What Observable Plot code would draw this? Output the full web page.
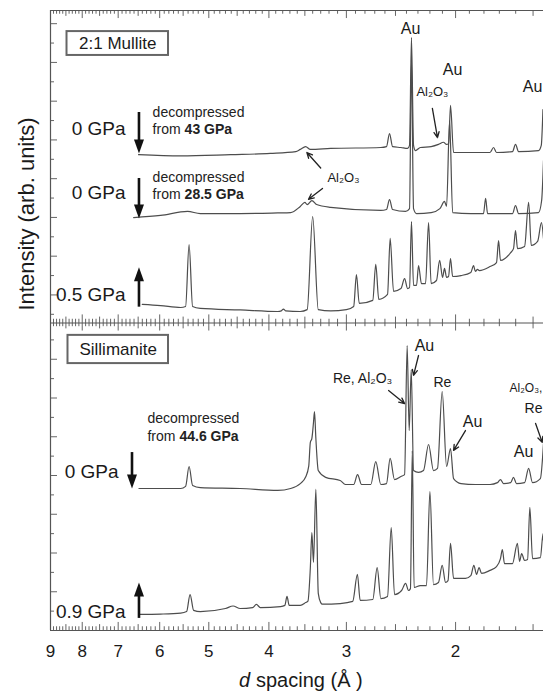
<!DOCTYPE html>
<html><head><meta charset="utf-8">
<script src="https://cdn.jsdelivr.net/npm/d3@7"></script>
<script src="https://cdn.jsdelivr.net/npm/@observablehq/plot@0.6"></script>
<style>body{margin:0;background:#fff;} svg{display:block;}</style>
</head><body><div id="chart"></div>
<script>
// ---- data: [d spacing (Å), intensity (arb. units, stacked offset)] ----
// Top panel: 2:1 Mullite
const traceA = [ // 0 GPa, decompressed from 43 GPa
[6.49,153.5],[5.55,153.1],[4.61,153.5],[3.98,153.9],[3.62,154.5],[3.56,155.2],[3.49,156.1],[3.43,155.2],[3.18,155.5],[2.64,155.8],[2.585,156.1],[2.556,160.3],[2.527,156.1],[2.45,155.8],[2.39,155.5],[2.373,156.5],[2.356,191.3],[2.338,156.5],[2.321,154.8],[2.28,155.8],[2.19,156.1],[2.131,156.8],[2.092,157.5],[2.068,156.8],[2.052,157],[2.038,169.4],[2.015,154.2],[1.96,154.2],[1.76,154.2],[1.737,155.8],[1.718,154.2],[1.619,154.5],[1.601,156.8],[1.583,154.5],[1.47,154.8],[1.455,156.5],[1.446,168]
];
const traceB = [ // 0 GPa, decompressed from 28.5 GPa
[6.61,133.2],[5.98,133.9],[5.41,135.2],[5.16,134.5],[4.45,134.5],[3.87,134.7],[3.69,134.8],[3.56,136.8],[3.50,138.1],[3.47,137.4],[3.41,138.7],[3.35,137.4],[3.18,136.5],[2.64,135.5],[2.585,135.8],[2.556,139.0],[2.527,135.8],[2.408,135.2],[2.373,136.1],[2.356,183.9],[2.338,136.1],[2.312,134.5],[2.19,134.8],[2.12,136.1],[2.084,138.4],[2.068,136.8],[2.045,164.5],[2.022,134.8],[1.89,134.5],[1.803,134.5],[1.789,139.4],[1.776,134.5],[1.619,134.5],[1.601,137.1],[1.583,134.5],[1.470,134.8],[1.453,138.7],[1.443,151.6]
];
const traceC = [ // 0.5 GPa
[6.40,105.2],[5.98,104.8],[5.55,104.2],[5.45,104.5],[5.38,124.5],[5.31,104.5],[5.16,103.9],[4.45,103.4],[3.87,102.9],[3.82,103.1],[3.79,103.7],[3.76,103.1],[3.56,102.9],[3.47,103.5],[3.40,133.5],[3.33,103.5],[3.18,103.1],[3.00,103.5],[2.92,104.5],[2.89,114.8],[2.86,105.5],[2.72,106.5],[2.69,118.1],[2.66,106.8],[2.575,108.4],[2.55,126.5],[2.518,109.4],[2.45,110.3],[2.417,113.5],[2.39,110.3],[2.373,110.6],[2.356,131.9],[2.338,111.3],[2.312,111.3],[2.295,117.7],[2.270,111.9],[2.236,111.9],[2.211,131.6],[2.19,111.9],[2.147,112.9],[2.122,119.4],[2.099,113.9],[2.084,116.8],[2.068,113.9],[2.053,114.2],[2.038,120],[2.022,114.2],[1.96,114.5],[1.89,115.5],[1.871,117.7],[1.858,115.8],[1.844,116.5],[1.831,116.1],[1.76,117.4],[1.718,118.7],[1.705,125.8],[1.693,119.4],[1.63,121.9],[1.613,123.2],[1.601,129],[1.589,123.2],[1.548,123.9],[1.525,138.1],[1.51,124.2],[1.475,125.5],[1.454,131.6],[1.443,126.5]
];
// Bottom panel: Sillimanite
const traceD = [ // 0 GPa, decompressed from 44.6 GPa
[6.48,45.8],[5.98,45.8],[5.55,45.8],[5.45,46.5],[5.38,52.9],[5.31,46.8],[5.16,46.1],[4.45,45.8],[3.87,45.2],[3.69,45.8],[3.56,47.4],[3.49,49.5],[3.45,53],[3.43,60.6],[3.41,62],[3.39,67],[3.377,70.6],[3.36,62],[3.33,51.6],[3.24,49.4],[3.07,48.4],[3.01,47.1],[2.92,47.1],[2.878,50.3],[2.836,47.1],[2.74,47.1],[2.69,54.5],[2.64,47.1],[2.585,47.4],[2.55,55.5],[2.509,48.7],[2.45,49.7],[2.417,50.3],[2.394,91.9],[2.376,64.5],[2.358,84.2],[2.338,51.6],[2.295,51],[2.253,51.6],[2.211,60],[2.171,51.6],[2.139,52.3],[2.102,77.1],[2.068,52.9],[2.038,58.7],[2.015,49],[1.96,47.4],[1.858,47.1],[1.76,47.1],[1.712,47.7],[1.693,48.7],[1.674,47.4],[1.63,47.7],[1.613,49.4],[1.595,47.4],[1.548,47.7],[1.525,52.3],[1.503,47.7],[1.46,49],[1.443,60.3]
];
const traceE = [ // 0.9 GPa
[6.48,5.2],[5.98,5.3],[5.55,5.6],[5.43,6.1],[5.36,11.6],[5.29,6.5],[5.16,6.1],[4.70,7.1],[4.57,7.9],[4.45,7.1],[4.25,7.4],[4.19,8.4],[4.13,7.4],[3.83,7.7],[3.77,8.1],[3.74,11],[3.71,8.1],[3.56,8.1],[3.49,9],[3.46,9.5],[3.43,20],[3.41,31.6],[3.39,22],[3.36,45.5],[3.33,12],[3.30,9],[3.28,8.5],[3.07,8.7],[2.93,9.4],[2.88,18.1],[2.85,9.7],[2.72,10],[2.676,20.3],[2.64,10.3],[2.575,11],[2.540,33.2],[2.509,11.6],[2.444,12.9],[2.408,15.2],[2.382,12.9],[2.365,13.5],[2.349,58],[2.333,13.9],[2.28,14.5],[2.228,14.5],[2.200,44.8],[2.171,14.8],[2.131,15.5],[2.102,21],[2.076,15.5],[2.057,16.1],[2.038,28.1],[2.015,16.8],[1.928,16.8],[1.89,17.7],[1.869,21],[1.850,18.1],[1.833,20.3],[1.816,18.4],[1.76,19.4],[1.718,20.6],[1.693,23.2],[1.681,26.1],[1.668,21.6],[1.619,21.6],[1.590,28.1],[1.577,22.3],[1.565,24.8],[1.548,22.6],[1.531,22.9],[1.518,39.7],[1.503,23.2],[1.46,23.5],[1.445,31.3],[1.443,29]
];
const traces = [traceA, traceB, traceC, traceD, traceE];

const xTickLabels = [9, 8, 7, 6, 5, 4, 3, 2];
const xDomain = [9, 1.443];
const yDomain = [0, 200];
const dividerY = 99.2;

const panelLabels = [
  {text: "2:1 Mullite", d: 7.01, v: 189.4, x1: 8.465, x2: 5.807, y1: 185.5, y2: 193.2},
  {text: "Sillimanite", d: 7.0, v: 90.6, x1: 8.434, x2: 5.807, y1: 86.1, y2: 95.2}
];
const pressureLabels = [
  {text: "0 GPa", d: 6.81, v: 161.9},
  {text: "0 GPa", d: 6.81, v: 141.0},
  {text: "0.5 GPa", d: 6.81, v: 108.4},
  {text: "0 GPa", d: 6.99, v: 51.3},
  {text: "0.9 GPa", d: 6.81, v: 6.1}
];
const pressureArrows = [
  {d: 6.48, from: 167.1, to: 153.9, dir: "down"},
  {d: 6.48, from: 145.8, to: 132.9, dir: "down"},
  {d: 6.48, from: 104.3, to: 117.2, dir: "up"},
  {d: 6.65, from: 57.4, to: 45.8, dir: "down"},
  {d: 6.48, from: 3.9, to: 15.5, dir: "up"}
];
const decompLabels = [
  {d: 6.16, v1: 167.1, v2: 161.5, p: "43 GPa"},
  {d: 6.16, v1: 146.1, v2: 140.6, p: "28.5 GPa"},
  {d: 6.28, v1: 68.4, v2: 62.7, p: "44.6 GPa"}
];
const phaseLabels = [
  {text: "Au", d: 2.364, v: 194.2, size: 16, anchor: "middle"},
  {text: "Au", d: 2.022, v: 181, size: 16, anchor: "middle"},
  {text: "Au", d: 1.449, v: 175.5, size: 16, anchor: "end"},
  {text: "Al₂O₃", d: 2.18, v: 173.9, size: 13, anchor: "middle"},
  {text: "Al₂O₃", d: 3.033, v: 146.1, size: 13, anchor: "middle"},
  {text: "Re, Al₂O₃", d: 2.825, v: 81.3, size: 14, anchor: "middle"},
  {text: "Au", d: 2.245, v: 91.9, size: 16, anchor: "middle"},
  {text: "Re", d: 2.10, v: 80, size: 14, anchor: "middle"},
  {text: "Au", d: 1.878, v: 67.4, size: 16, anchor: "middle"},
  {text: "Al₂O₃,", d: 1.449, v: 78.1, size: 12, anchor: "end"},
  {text: "Re", d: 1.548, v: 71.6, size: 14, anchor: "start"},
  {text: "Au", d: 1.554, v: 57.7, size: 16, anchor: "middle"}
];
const pointers = [
  {x1: 2.18, y1: 168.4, x2: 2.139, y2: 159},
  {x1: 3.30, y1: 149.2, x2: 3.474, y2: 154.2},
  {x1: 3.278, y1: 142.6, x2: 3.453, y2: 139.1},
  {x1: 2.565, y1: 77.4, x2: 2.417, y2: 73.2},
  {x1: 2.295, y1: 88.7, x2: 2.338, y2: 82.3},
  {x1: 1.928, y1: 64.5, x2: 2.015, y2: 58.1},
  {x1: 1.486, y1: 66.8, x2: 1.45, y2: 60.7}
];

// ---- ticks ----
const xTicks = d3.range(15, 91).map(i => ({d: i / 10, len: i % 10 === 0 ? 2.6 : i % 5 === 0 ? 1.9 : 1.2}));
const yTicks = [
  ...d3.range(1, 16).map(k => ({v: k * 6.25, major: k % 2 === 0})),
  ...d3.range(0, 16).map(k => ({v: 102 + k * 6.25, major: k % 2 === 1}))
];

const W = 543, H = 696, ML = 50, MR = 0, MT = 10, MB = 66;
const innerW = W - ML - MR;
const ink = "#4d4d4d", frame = "#555", txt = "#1a1a1a";
const FONT = "'Liberation Sans', Arial, Helvetica, sans-serif";

const headDown = {draw(ctx) { ctx.moveTo(0, 0); ctx.lineTo(-5, -14); ctx.lineTo(5, -14); ctx.closePath(); }};
const headUp = {draw(ctx) { ctx.moveTo(0, 0); ctx.lineTo(-5, 14); ctx.lineTo(5, 14); ctx.closePath(); }};

const chart = Plot.plot({
  width: W, height: H,
  marginLeft: ML, marginRight: MR, marginTop: MT, marginBottom: MB,
  style: {fontFamily: FONT, background: "#fff", color: txt, overflow: "visible"},
  x: {type: "log", domain: xDomain, axis: null},
  y: {domain: yDomain, axis: null},
  marks: [
    // frame
    Plot.ruleY([0, dividerY, 200], {stroke: frame, strokeWidth: 1.2}),
    Plot.ruleX([9], {y1: 0, y2: 200, stroke: frame, strokeWidth: 1.2}),
    // x ticks on bottom, divider and top
    Plot.ruleX(xTicks, {x: "d", y1: 0, y2: "len", stroke: frame, strokeWidth: 0.9}),
    Plot.ruleX(xTicks, {x: "d", y1: t => dividerY - t.len, y2: t => dividerY + t.len, stroke: frame, strokeWidth: 0.9}),
    Plot.ruleX(xTicks, {x: "d", y1: t => 200 - t.len, y2: 200, stroke: frame, strokeWidth: 0.9}),
    // y ticks (inside, left)
    Plot.ruleY(yTicks.filter(t => t.major), {y: "v", insetRight: innerW - 7, stroke: frame, strokeWidth: 0.9}),
    Plot.ruleY(yTicks.filter(t => !t.major), {y: "v", insetRight: innerW - 4, stroke: frame, strokeWidth: 0.9}),
    // panel boxes
    Plot.rect(panelLabels, {x1: "x1", x2: "x2", y1: "y1", y2: "y2", fill: "#fff", stroke: "#666", strokeWidth: 2}),
    Plot.text(panelLabels, {x: "d", y: "v", text: "text", fontSize: 17, fill: txt}),
    // traces
    ...traces.map(t => Plot.line(t, {x: p => p[0], y: p => p[1], curve: "monotone-x", stroke: ink, strokeWidth: 1.2})),
    // pressure labels and arrows
    Plot.text(pressureLabels, {x: "d", y: "v", text: "text", textAnchor: "end", fontSize: 19, fill: txt}),
    Plot.ruleX(pressureArrows, {x: "d", y1: "from", y2: a => a.dir === "down" ? a.to + 2 : a.to - 2, stroke: "#111", strokeWidth: 2.6}),
    Plot.dot(pressureArrows.filter(a => a.dir === "down"), {x: "d", y: "to", r: 5, symbol: headDown, fill: "#111", stroke: "none"}),
    Plot.dot(pressureArrows.filter(a => a.dir === "up"), {x: "d", y: "to", r: 5, symbol: headUp, fill: "#111", stroke: "none"}),
    // decompressed labels
    Plot.text(decompLabels, {x: "d", y: "v1", text: () => "decompressed", textAnchor: "start", fontSize: 14, fill: "#222"}),
    Plot.text(decompLabels, {x: "d", y: "v2", text: () => "from", textAnchor: "start", fontSize: 14, fill: "#222"}),
    Plot.text(decompLabels, {x: "d", y: "v2", text: "p", textAnchor: "start", dx: 32, fontSize: 14, fontWeight: "bold", fill: "#222"}),
    // phase labels
    ...[12, 13, 14, 16].flatMap(s => ["middle", "start", "end"].map(a =>
      Plot.text(phaseLabels.filter(l => l.size === s && l.anchor === a), {x: "d", y: "v", text: "text", textAnchor: a, fontSize: s, fill: txt}))),
    Plot.arrow(pointers, {x1: "x1", y1: "y1", x2: "x2", y2: "y2", stroke: "#222", strokeWidth: 1.3, headLength: 7, headAngle: 50}),
    // x tick labels
    Plot.text(xTickLabels, {x: d => d, y: 0, dy: 21, text: d => String(d), fontSize: 17, fill: txt}),
    // axis titles
    Plot.text(["d"], {frameAnchor: "bottom", dx: -58, dy: 56.6, textAnchor: "start", fontSize: 20, fontStyle: "italic", fill: txt}),
    Plot.text(["spacing (Å )"], {frameAnchor: "bottom", dx: -41, dy: 56.6, textAnchor: "start", fontSize: 20, fill: txt}),
    Plot.text(["Intensity (arb. units)"], {frameAnchor: "left", dx: -24, dy: -10, rotate: -90, fontSize: 22, fill: txt})
  ]
});
document.getElementById("chart").appendChild(chart);
</script>
</body></html>
